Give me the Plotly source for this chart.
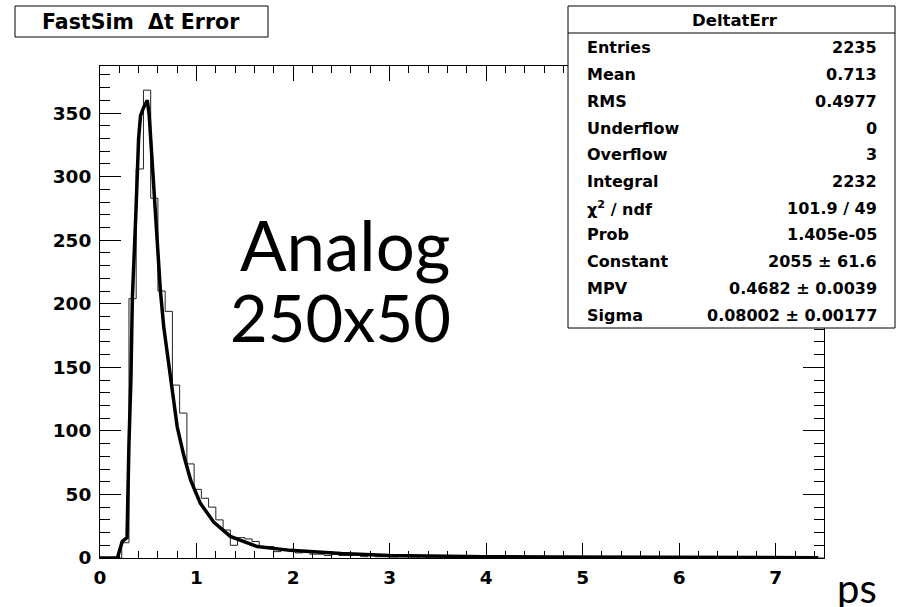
import plotly.graph_objects as go

# ---------------- data ----------------
BIN_LO = 0.0
BIN_W = 0.075
COUNTS = [0, 0, 0, 12, 204, 306, 368, 283, 210, 194,
          136, 114, 74, 54, 47, 40, 30, 22, 10, 16,
          15, 13, 9, 9, 5, 7, 6, 4, 5, 3,
          3, 2, 3, 2, 2, 3, 1, 2, 1, 1,
          0, 1, 1, 0, 1, 0, 0, 1, 0, 0] + [0] * 50

FIT_X = [0.00, 0.18, 0.23, 0.28, 0.30, 0.32, 0.335, 0.35, 0.37, 0.40, 0.42, 0.45,
         0.48, 0.49, 0.51, 0.54, 0.56, 0.58, 0.60, 0.625, 0.66, 0.70, 0.75, 0.80,
         0.87, 0.94, 1.04, 1.18, 1.35, 1.63, 1.97, 2.50, 3.00, 3.50, 4.00, 4.70,
         5.50, 6.50, 7.44]
FIT_Y = [0, 0, 13, 16, 90, 140, 204, 240, 268, 330, 348, 354,
         358, 360, 348, 312, 285, 255, 232, 211, 182, 160, 132, 103,
         80, 61, 43, 28, 17, 9, 6, 3.5, 2, 1.4, 1, 0.7,
         0.5, 0.3, 0.2]

X_RANGE = [0, 7.5]
Y_RANGE = [0, 387]

TITLE = "FastSim  Δt Error"
STAT_TITLE = "DeltatErr"
STAT_LABELS = ["Entries", "Mean", "RMS", "Underflow", "Overflow", "Integral",
               "χ<sup>2</sup> / ndf", "Prob", "Constant", "MPV", "Sigma"]
STAT_VALUES = ["2235", "0.713", "0.4977", "0", "3", "2232", "101.9 / 49",
               "1.405e-05", "2055 ± 61.6", "0.4682 ± 0.0039", "0.08002 ± 0.00177"]
ANNOT_1 = "Analog"
ANNOT_2 = "250x50"
X_UNIT = "ps"

# ---------------- layout helpers ----------------
W, H = 903, 607
L, R, T, B = 100, 79, 66, 49


def px(x):
    return (x - L) / (W - L - R)


def py(y):
    return (H - B - y) / (H - T - B)


edges = [BIN_LO + i * BIN_W for i in range(len(COUNTS) + 1)]
hist_y = COUNTS + [COUNTS[-1]]

fig = go.Figure()
fig.add_trace(go.Scatter(x=edges, y=hist_y, mode="lines", line_shape="hv",
                         line=dict(color="#222222", width=1), hoverinfo="skip"))
fig.add_trace(go.Scatter(x=FIT_X, y=FIT_Y, mode="lines",
                         line=dict(color="black", width=3.5), hoverinfo="skip"))

tickfont = dict(family="DejaVu Sans", size=18.5, color="black", weight="bold")
fig.update_xaxes(range=X_RANGE, tick0=0, dtick=1, ticks="inside", ticklen=15,
                 tickwidth=1, tickcolor="black", showline=True, linecolor="black",
                 linewidth=1, mirror="ticks", showgrid=False, zeroline=False,
                 tickfont=tickfont, ticklabelstandoff=3,
                 minor=dict(dtick=0.2, ticks="inside", ticklen=7, tickcolor="black",
                            tickwidth=1, showgrid=False))
fig.update_yaxes(range=Y_RANGE, tick0=0, dtick=50, ticks="inside", ticklen=21,
                 tickwidth=1, tickcolor="black", showline=True, linecolor="black",
                 linewidth=1, mirror="ticks", showgrid=False, zeroline=False,
                 tickfont=tickfont, ticklabelstandoff=4,
                 minor=dict(dtick=10, ticks="inside", ticklen=10, tickcolor="black",
                            tickwidth=1, showgrid=False))

shapes = [
    dict(type="rect", xref="paper", yref="paper", x0=px(15), x1=px(268),
         y0=py(37), y1=py(6), line=dict(color="black", width=1), fillcolor="white"),
    dict(type="rect", xref="paper", yref="paper", x0=px(568), x1=px(895),
         y0=py(328), y1=py(6), line=dict(color="black", width=1), fillcolor="white"),
    dict(type="line", xref="paper", yref="paper", x0=px(568), x1=px(895),
         y0=py(33), y1=py(33), line=dict(color="black", width=1)),
]

sfont = dict(family="DejaVu Sans", size=16, color="black", weight="bold")
ann = [
    dict(text=TITLE, x=px(141), y=py(21.5), xref="paper", yref="paper",
         showarrow=False, xanchor="center", yanchor="middle",
         font=dict(family="DejaVu Sans", size=20.5, color="black", weight="bold")),
    dict(text=STAT_TITLE, x=px(735), y=py(21), xref="paper", yref="paper",
         showarrow=False, xanchor="center", yanchor="middle",
         font=dict(family="DejaVu Sans", size=16.5, color="black", weight="bold")),
    dict(text=ANNOT_1, x=px(345), y=py(244), xref="paper", yref="paper",
         showarrow=False, xanchor="center", yanchor="middle",
         font=dict(family="Lato", size=69, color="black")),
    dict(text=ANNOT_2, x=px(340), y=py(317), xref="paper", yref="paper",
         showarrow=False, xanchor="center", yanchor="middle",
         font=dict(family="Lato", size=65, color="black")),
    dict(text=X_UNIT, x=px(857), y=py(588), xref="paper", yref="paper",
         showarrow=False, xanchor="center", yanchor="middle",
         font=dict(family="Lato", size=40, color="black")),
]
for k, (lab, val) in enumerate(zip(STAT_LABELS, STAT_VALUES)):
    yy = 48 + 26.7 * k
    ann.append(dict(text=lab, x=px(585), y=py(yy), xref="paper", yref="paper",
                    showarrow=False, xanchor="left", yanchor="middle", font=sfont))
    ann.append(dict(text=val, x=px(879), y=py(yy), xref="paper", yref="paper",
                    showarrow=False, xanchor="right", yanchor="middle", font=sfont))

fig.update_layout(width=W, height=H, margin=dict(l=L, r=R, t=T, b=B),
                  paper_bgcolor="white", plot_bgcolor="white", showlegend=False,
                  shapes=shapes, annotations=ann)

fig.write_html("out.html")
